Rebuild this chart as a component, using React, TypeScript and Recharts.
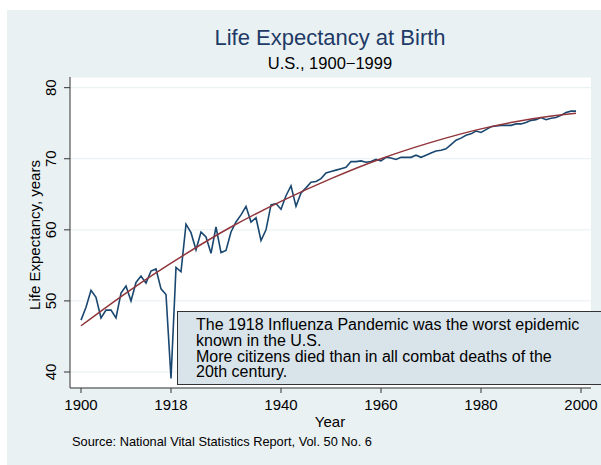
import React from 'react';
import { LineChart, Line, XAxis, YAxis, CartesianGrid } from 'recharts';

// U.S. life expectancy at birth, 1900-1999
const years = [
  1900, 1901, 1902, 1903, 1904, 1905, 1906, 1907, 1908, 1909,
  1910, 1911, 1912, 1913, 1914, 1915, 1916, 1917, 1918, 1919,
  1920, 1921, 1922, 1923, 1924, 1925, 1926, 1927, 1928, 1929,
  1930, 1931, 1932, 1933, 1934, 1935, 1936, 1937, 1938, 1939,
  1940, 1941, 1942, 1943, 1944, 1945, 1946, 1947, 1948, 1949,
  1950, 1951, 1952, 1953, 1954, 1955, 1956, 1957, 1958, 1959,
  1960, 1961, 1962, 1963, 1964, 1965, 1966, 1967, 1968, 1969,
  1970, 1971, 1972, 1973, 1974, 1975, 1976, 1977, 1978, 1979,
  1980, 1981, 1982, 1983, 1984, 1985, 1986, 1987, 1988, 1989,
  1990, 1991, 1992, 1993, 1994, 1995, 1996, 1997, 1998, 1999,
];

const lifeExp = [
  47.3, 49.1, 51.5, 50.5, 47.6, 48.7, 48.7, 47.6, 51.1, 52.1,
  50.0, 52.6, 53.5, 52.5, 54.2, 54.5, 51.7, 50.9, 39.1, 54.7,
  54.1, 60.8, 59.6, 57.2, 59.7, 59.0, 56.7, 60.4, 56.8, 57.1,
  59.7, 61.1, 62.1, 63.3, 61.1, 61.7, 58.5, 60.0, 63.5, 63.7,
  62.9, 64.8, 66.2, 63.3, 65.2, 65.9, 66.7, 66.8, 67.2, 68.0,
  68.2, 68.4, 68.6, 68.8, 69.6, 69.6, 69.7, 69.5, 69.6, 69.9,
  69.7, 70.2, 70.1, 69.9, 70.2, 70.2, 70.2, 70.5, 70.2, 70.5,
  70.8, 71.1, 71.2, 71.4, 72.0, 72.6, 72.9, 73.3, 73.5, 73.9,
  73.7, 74.1, 74.5, 74.6, 74.7, 74.7, 74.7, 74.9, 74.9, 75.1,
  75.4, 75.5, 75.8, 75.5, 75.7, 75.8, 76.1, 76.5, 76.7, 76.7,
];

// quadratic fit curve
const fitYears = [1900, 1910, 1920, 1930, 1940, 1950, 1960, 1970, 1980, 1990, 1999];
const fitValues = [46.5, 51.6, 56.2, 60.4, 64.0, 67.2, 70.0, 72.3, 74.2, 75.6, 76.4];

const xTicks = [1900, 1918, 1940, 1960, 1980, 2000];
const yTicks = [40, 50, 60, 70, 80];

const noteLines = [
  'The 1918 Influenza Pandemic was the worst epidemic',
  'known in the U.S.',
  'More citizens died than in all combat deaths of the',
  '20th century.',
];

const FONT = '"Liberation Sans", Arial, Helvetica, sans-serif';

const leData = years.map((y, i) => ({ year: y, le: lifeExp[i] }));
const fitData = fitYears.map((y, i) => ({ year: y, fit: fitValues[i] }));

const YTick = (props: any) => {
  const { x, y, payload } = props;
  const tx = x - 6;
  return (
    <text x={tx} y={y} transform={`rotate(-90, ${tx}, ${y})`} textAnchor="middle"
      fontSize={15} fontFamily={FONT} fill="#000">
      {payload.value}
    </text>
  );
};

export default function App() {
  return (
    <div style={{ position: 'absolute', left: 0, top: 0, width: 601, height: 465, background: '#fff', overflow: 'hidden', fontFamily: FONT }}>
      <div style={{ position: 'absolute', left: 7, top: 10, right: 0, bottom: 0, background: '#eaf1f3' }} />
      <div style={{ position: 'absolute', left: 0, top: 0 }}>
        <LineChart width={601} height={465} margin={{ top: 77, right: 10, bottom: 47, left: 10 }}>
          <CartesianGrid vertical={false} stroke="#e7eff1" fill="#ffffff" />
          <XAxis dataKey="year" type="number" domain={[1897.8, 2002]} ticks={xTicks} allowDataOverflow
            height={30} tickSize={5} tickMargin={6} stroke="#333" tickLine={{ stroke: '#333' }}
            tick={{ fontSize: 15, fontFamily: FONT, fill: '#000' }} />
          <YAxis type="number" domain={[37.75, 81.5]} ticks={yTicks} allowDataOverflow
            width={60} tickSize={6} stroke="#333" tickLine={{ stroke: '#333' }} tick={<YTick />} />
          <Line data={leData} dataKey="le" type="linear" stroke="#1a476f" strokeWidth={1.6}
            dot={false} isAnimationActive={false} />
          <Line data={fitData} dataKey="fit" type="monotone" stroke="#90353b" strokeWidth={1.5}
            dot={false} isAnimationActive={false} />
        </LineChart>
      </div>
      <svg width={601} height={465} style={{ position: 'absolute', left: 0, top: 0 }} fontFamily={FONT}>
        <text x={330} y={45} textAnchor="middle" fontSize={22} fill="#1e3a66">Life Expectancy at Birth</text>
        <text x={330} y={69} textAnchor="middle" fontSize={16.5} fill="#000">U.S., 1900−1999</text>
        <text x={40} y={235} transform="rotate(-90, 40, 235)" textAnchor="middle" fontSize={15} fill="#000">Life Expectancy, years</text>
        <text x={330} y={427} textAnchor="middle" fontSize={15} fill="#000">Year</text>
        <text x={72} y={446} fontSize={12.8} fill="#000">Source:  National Vital Statistics Report, Vol. 50 No. 6</text>
        <rect x={177.5} y={311.5} width={440} height={73} fill="#d9e4ea" stroke="#333" strokeWidth={1} />
        {noteLines.map((t, i) => (
          <text key={i} x={196} y={330 + i * 15.8} fontSize={16} fill="#000">{t}</text>
        ))}
      </svg>
    </div>
  );
}
